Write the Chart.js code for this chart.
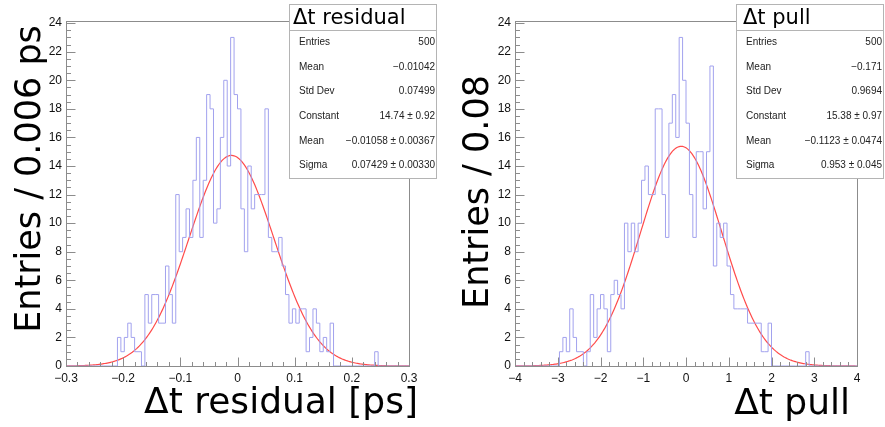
<!DOCTYPE html>
<html>
<head>
<meta charset="utf-8">
<script src="https://cdn.jsdelivr.net/npm/chart.js@4.4.1/dist/chart.umd.min.js"></script>
<style>
  html, body { margin: 0; padding: 0; background: #fff; }
  #wrap { position: relative; width: 885px; height: 427px; overflow: hidden; }
  canvas { position: absolute; top: 0; }
</style>
</head>
<body>
<div id="wrap">
  <canvas id="cRes" width="443" height="427" style="left:0;width:443px;height:427px"></canvas>
  <canvas id="cPull" width="442" height="427" style="left:443px;width:442px;height:427px"></canvas>
</div>
<script>
// ---------- Δt residual histogram: 100 bins on [-0.3, 0.3] ----------
const RES_RANGE = [-0.3, 0.3];
const RES_COUNTS = [
  0, 0, 0, 0, 0, 0, 0, 0, 0, 0,
  0, 0, 0, 0, 0, 0, 2, 1, 2, 3,
  2, 1, 1, 0, 5, 3, 5, 5, 3, 3,
  7, 5, 3, 12, 8, 9, 11, 9, 13, 16,
  9, 13, 19, 18, 10, 11, 16, 20, 14, 23,
  19, 18, 11, 8, 14, 11, 12, 12, 12, 18,
  9, 8, 8, 9, 7, 5, 3, 4, 3, 4,
  4, 1, 2, 4, 3, 1, 2, 1, 3, 0,
  0, 0, 0, 0, 0, 0, 0, 0, 0, 0,
  0, 1, 0, 0, 0, 0, 0, 0, 0, 0
];
const RES_X_TICKS = [-0.3, -0.2, -0.1, 0, 0.1, 0.2, 0.3];
const RES_X_LABELS = ['\u22120.3', '\u22120.2', '\u22120.1', '0', '0.1', '0.2', '0.3'];
const RES_FIT = { constant: 14.74, mean: -0.01058, sigma: 0.07429 };
const RES_STAT_NAMES = ['Entries', 'Mean', 'Std Dev', 'Constant', 'Mean', 'Sigma'];
const RES_STAT_VALUES = ['500', '\u22120.01042', '0.07499', '14.74 \u00b1 0.92', '\u22120.01058 \u00b1 0.00367', '0.07429 \u00b1 0.00330'];

// ---------- Δt pull histogram: 100 bins on [-4, 4] ----------
const PULL_RANGE = [-4, 4];
const PULL_COUNTS = [
  0, 0, 0, 0, 0, 0, 0, 0, 0, 0,
  0, 0, 0, 0, 1, 2, 1, 4, 2, 1,
  1, 0, 1, 5, 2, 4, 5, 4, 1, 5,
  6, 5, 4, 10, 8, 10, 8, 10, 13, 14,
  12, 12, 18, 18, 12, 9, 17, 19, 16, 23,
  20, 17, 12, 9, 15, 15, 11, 15, 21, 7,
  10, 9, 10, 7, 5, 4, 4, 4, 4, 3,
  3, 3, 3, 1, 1, 3, 0, 0, 0, 0,
  0, 0, 0, 0, 0, 0, 1, 0, 0, 0,
  0, 0, 0, 0, 0, 0, 0, 0, 0, 0
];
const PULL_X_TICKS = [-4, -3, -2, -1, 0, 1, 2, 3, 4];
const PULL_X_LABELS = ['\u22124', '\u22123', '\u22122', '\u22121', '0', '1', '2', '3', '4'];
const PULL_FIT = { constant: 15.38, mean: -0.1123, sigma: 0.953 };
const PULL_STAT_NAMES = ['Entries', 'Mean', 'Std Dev', 'Constant', 'Mean', 'Sigma'];
const PULL_STAT_VALUES = ['500', '\u22120.171', '0.9694', '15.38 \u00b1 0.97', '\u22120.1123 \u00b1 0.0474', '0.953 \u00b1 0.045'];

// shared y axis
const Y_TICKS = [0, 2, 4, 6, 8, 10, 12, 14, 16, 18, 20, 22, 24];
const Y_MAX = 24.15;

// ---------- style ----------
const HIST_COLOR = '#a2a2ee';
const FIT_COLOR = '#ff4b4b';
const FRAME_COLOR = '#8c8c8c';
const BOX_COLOR = '#b4b4b4';
const SANS = '"Liberation Sans", Arial, Helvetica, sans-serif';
const TITLE_FONT = '"DejaVu Sans", Verdana, sans-serif';

// outline of a histogram as step points at the bin edges
function histOutline(counts, range) {
  const n = counts.length, w = (range[1] - range[0]) / n;
  const pts = counts.map((c, i) => ({ x: range[0] + i * w, y: c }));
  pts.push({ x: range[1], y: counts[n - 1] });
  return pts;
}

// the fitted gaussian, evaluated along the axis range
function fitCurve(fit, range, samples) {
  const pts = [];
  for (let i = 0; i <= samples; i++) {
    const x = range[0] + (range[1] - range[0]) * i / samples;
    const z = (x - fit.mean) / fit.sigma;
    pts.push({ x: x, y: fit.constant * Math.exp(-0.5 * z * z) });
  }
  return pts;
}

// frame, inner tick marks, axis titles and the statistics box
const padDecor = {
  id: 'padDecor',
  afterDraw(chart, args, o) {
    const ctx = chart.ctx, a = chart.chartArea;
    const xs = chart.scales.x, ys = chart.scales.y;
    const L = Math.round(a.left) + 0.5, R = Math.round(a.right) + 0.5;
    const T = Math.round(a.top) + 0.5, B = Math.round(a.bottom) + 0.5;
    ctx.save();
    ctx.strokeStyle = FRAME_COLOR;
    ctx.lineWidth = 1;
    ctx.strokeRect(L, T, R - L, B - T);
    ctx.beginPath();
    // x ticks (major + 5 subdivisions)
    const xr = o.xRange, xstep = o.xMajor / 5;
    const nx = Math.round((xr[1] - xr[0]) / xstep);
    for (let i = 0; i <= nx; i++) {
      const v = xr[0] + i * xstep;
      const px = Math.round(xs.getPixelForValue(v)) + 0.5;
      const len = (i % 5 === 0) ? 9 : 4.5;
      ctx.moveTo(px, B); ctx.lineTo(px, B - len);
    }
    // y ticks (major every 2, minor every 0.5)
    for (let i = 0; i <= 48; i++) {
      const v = i * 0.5;
      const py = Math.round(ys.getPixelForValue(v)) + 0.5;
      const len = (i % 4 === 0) ? 9 : 4.5;
      ctx.moveTo(L, py); ctx.lineTo(L + len, py);
    }
    ctx.stroke();

    // axis titles
    ctx.fillStyle = '#000';
    ctx.font = '36px ' + TITLE_FONT;
    ctx.textAlign = 'right';
    ctx.textBaseline = 'alphabetic';
    ctx.fillText(o.xTitle, o.xTitlePos[0], o.xTitlePos[1]);
    ctx.save();
    ctx.font = '35px ' + TITLE_FONT;
    ctx.translate(o.yTitlePos[0], o.yTitlePos[1]);
    ctx.rotate(-Math.PI / 2);
    ctx.textAlign = 'center';
    ctx.fillText(o.yTitle, 0, 0);
    ctx.restore();

    // statistics box
    const b = o.box;
    ctx.fillStyle = '#fff';
    ctx.fillRect(b.x, b.y, b.w, b.h);
    ctx.strokeStyle = BOX_COLOR;
    ctx.strokeRect(b.x + 0.5, b.y + 0.5, b.w, b.h);
    ctx.beginPath();
    ctx.moveTo(b.x, b.y + 26.5); ctx.lineTo(b.x + b.w, b.y + 26.5);
    ctx.stroke();
    ctx.fillStyle = '#000';
    ctx.font = '21px ' + TITLE_FONT;
    ctx.textAlign = 'left';
    ctx.fillText(o.boxTitle, b.titleX, b.y + 20);
    ctx.font = '10px ' + SANS;
    ctx.fillStyle = '#222';
    ctx.textBaseline = 'middle';
    o.statNames.forEach((name, i) => {
      const yy = b.y + 38.5 + i * 24.6;
      ctx.textAlign = 'left';
      ctx.fillText(name, b.labelX, yy);
      ctx.textAlign = 'right';
      ctx.fillText(o.statValues[i], b.valueX, yy);
    });
    ctx.restore();
  }
};

function makePad(canvasId, cfg) {
  return new Chart(document.getElementById(canvasId), {
    type: 'line',
    data: {
      datasets: [
        {
          data: histOutline(cfg.counts, cfg.range),
          stepped: 'after',
          borderColor: HIST_COLOR,
          borderWidth: 1,
          pointRadius: 0,
          fill: false
        },
        {
          data: fitCurve(cfg.fit, cfg.range, 300),
          borderColor: FIT_COLOR,
          borderWidth: 1.2,
          pointRadius: 0,
          tension: 0,
          fill: false
        }
      ]
    },
    options: {
      responsive: false,
      animation: false,
      events: [],
      layout: { padding: { top: 21, right: cfg.padRight, left: 0, bottom: 0 } },
      plugins: {
        legend: { display: false },
        tooltip: { enabled: false },
        padDecor: cfg.decor
      },
      scales: {
        x: {
          type: 'linear',
          min: cfg.range[0],
          max: cfg.range[1],
          afterFit: s => { s.height = 61; },
          afterBuildTicks: s => { s.ticks = cfg.xTicks.map(v => ({ value: v })); },
          grid: { display: false, drawTicks: false },
          border: { display: false },
          ticks: {
            autoSkip: false,
            maxRotation: 0,
            padding: 5,
            color: '#111',
            font: { family: SANS, size: 12 },
            callback: (v, i) => cfg.xLabels[i]
          }
        },
        y: {
          type: 'linear',
          min: 0,
          max: Y_MAX,
          afterFit: s => { s.width = cfg.yWidth; },
          afterBuildTicks: s => { s.ticks = Y_TICKS.map(v => ({ value: v })); },
          grid: { display: false, drawTicks: false },
          border: { display: false },
          ticks: {
            autoSkip: false,
            padding: 4,
            color: '#111',
            font: { family: SANS, size: 12 },
            callback: v => String(v)
          }
        }
      }
    },
    plugins: [padDecor]
  });
}

makePad('cRes', {
  counts: RES_COUNTS, range: RES_RANGE, fit: RES_FIT,
  xTicks: RES_X_TICKS, xLabels: RES_X_LABELS,
  yWidth: 66, padRight: 34,
  decor: {
    xRange: RES_RANGE, xMajor: 0.1,
    xTitle: '\u0394t residual [ps]', xTitlePos: [418, 413],
    yTitle: 'Entries / 0.006 ps', yTitlePos: [40, 179],
    boxTitle: '\u0394t residual', statNames: RES_STAT_NAMES, statValues: RES_STAT_VALUES,
    box: { x: 289, y: 4, w: 147, h: 174, titleX: 293, labelX: 299, valueX: 435 }
  }
});

makePad('cPull', {
  counts: PULL_COUNTS, range: PULL_RANGE, fit: PULL_FIT,
  xTicks: PULL_X_TICKS, xLabels: PULL_X_LABELS,
  yWidth: 72, padRight: 28,
  decor: {
    xRange: PULL_RANGE, xMajor: 1,
    xTitle: '\u0394t pull', xTitlePos: [407, 414],
    yTitle: 'Entries / 0.08', yTitlePos: [45, 192],
    boxTitle: '\u0394t pull', statNames: PULL_STAT_NAMES, statValues: PULL_STAT_VALUES,
    box: { x: 293, y: 4, w: 147, h: 174, titleX: 300, labelX: 303, valueX: 439 }
  }
});
</script>
</body>
</html>
